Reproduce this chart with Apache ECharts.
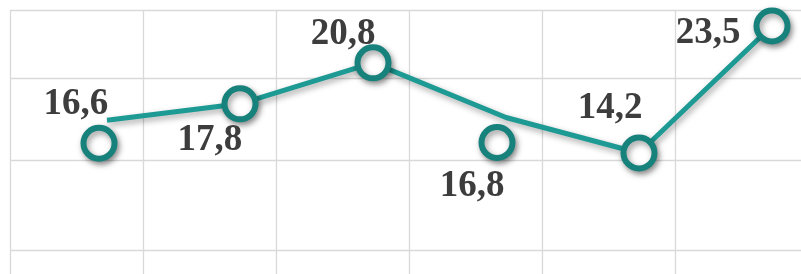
<!DOCTYPE html>
<html><head><meta charset="utf-8">
<script src="https://cdn.jsdelivr.net/npm/echarts@6/dist/echarts.min.js"></script>
<style>html,body{margin:0;padding:0;background:#fff}#c{width:801px;height:274px}</style>
</head><body><div id="c"></div>
<script>
// data
const labels = ['16,6', '17,8', '20,8', '16,8', '14,2', '23,5'];
const values = [16.6, 17.8, 20.8, 16.8, 14.2, 23.5];
// grid lines (axis positions)
const xGridTicks = [-0.7293, 0.2707, 1.2707, 2.2707, 3.2707, 4.2707];
const yGridTicks = [7.1, 13.69, 19.69, 24.67];

const symOffsets = [[-8, 23], [0, 0], [0, 0], [-9, 25], [0, 0], [0, 0]];
const labelOffsets = [[-23, -39], [-30, 37], [-30, -28], [-25, 44], [-29, -45], [-64, 7]];

const chart = echarts.init(document.getElementById('c'), null, {renderer: 'canvas'});
const data = values.map((v, i) => ({
  value: [i, v],
  symbolOffset: symOffsets[i],
  label: {offset: labelOffsets[i], formatter: labels[i]}
}));
chart.setOption({
  animation: false,
  grid: {left: 10, top: 10, right: 0, bottom: 0, containLabel: false},
  xAxis: {
    type: 'value', min: -0.7293, max: 5.218,
    axisLine: {show: false}, axisLabel: {show: false},
    axisTick: {show: false, customValues: xGridTicks},
    splitLine: {show: true, lineStyle: {color: '#d9d9d9', width: 1.3}}
  },
  yAxis: {
    type: 'value', min: 5.34, max: 24.67,
    axisLine: {show: false}, axisLabel: {show: false},
    axisTick: {show: false, customValues: yGridTicks},
    splitLine: {show: true, lineStyle: {color: '#d9d9d9', width: 1.3}}
  },
  series: [{
    type: 'line',
    data: data,
    symbol: 'circle',
    symbolSize: 31,
    showAllSymbol: true,
    lineStyle: {color: '#1c9a93', width: 5, shadowBlur: 6, shadowColor: 'rgba(0,0,0,0.35)', shadowOffsetX: 2, shadowOffsetY: 3},
    itemStyle: {color: '#ffffff', borderColor: '#17827c', borderWidth: 6, shadowBlur: 6, shadowColor: 'rgba(0,0,0,0.4)', shadowOffsetX: 2, shadowOffsetY: 3},
    label: {
      show: true, position: 'inside',
      fontFamily: '"Liberation Serif", "Times New Roman", serif',
      fontWeight: 'bold', fontSize: 37, color: '#3d3d3d'
    },
    emphasis: {disabled: true}
  }]
});
</script></body></html>
